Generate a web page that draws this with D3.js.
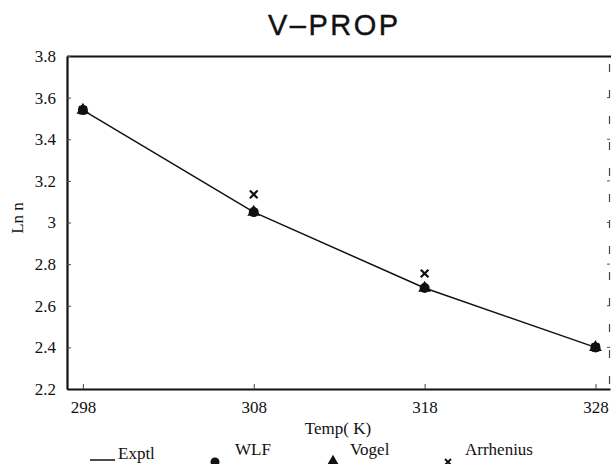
<!DOCTYPE html>
<html>
<head>
<meta charset="utf-8">
<script src="https://cdn.jsdelivr.net/npm/d3@7"></script>
<style>
	body { margin: 0; background: #fff; }
	text { fill: #111; }
</style>
</head>
<body>
<script>

// data
var temps = [298, 308, 318, 328];
var exptl = [3.54, 3.05, 2.685, 2.40];
var wlf = [3.54, 3.05, 2.685, 2.40];
var vogel = [3.54, 3.05, 2.685, 2.40];
var arrhenius = [3.54, 3.135, 2.755, 2.40];

var xTicks = [298, 308, 318, 328];
var yTicks = [2.2, 2.4, 2.6, 2.8, 3.0, 3.2, 3.4, 3.6, 3.8];
var yTickLabels = ["2.2", "2.4", "2.6", "2.8", "3", "3.2", "3.4", "3.6", "3.8"];

var legendNames = ["Exptl", "WLF", "Vogel", "Arrhenius"];

function load() {

	var width = 611, height = 464;
	var margin = {top: 56, right: 1, bottom: 75, left: 67},
		w = width - margin.left - margin.right,
		h = height - margin.top - margin.bottom;

	var svg = d3.select("body").append("svg")
		.attr("width", width)
		.attr("height", height);

	var g = svg.append("g")
		.attr("transform", "translate(" + margin.left + "," + margin.top + ")");

	var x = d3.scaleLinear().domain([297.07, 328.85]).range([0, w]);
	var y = d3.scaleLinear().domain([2.2, 3.8]).range([h, 0]);

	var serif = "'Liberation Serif', 'DejaVu Serif', serif";

	// frame: top and right border
	g.append("line")
		.attr("x1", 0).attr("x2", w + 2)
		.attr("y1", 0.5).attr("y2", 0.5)
		.attr("stroke", "#111").attr("stroke-width", 1.8);
	g.append("line")
		.attr("x1", w - 0.5).attr("x2", w - 0.5)
		.attr("y1", 8).attr("y2", h)
		.attr("stroke", "#444").attr("stroke-width", 1.2)
		.attr("stroke-dasharray", "8,18");

	// axes
	var yAxis = d3.axisLeft(y)
		.tickValues(yTicks)
		.tickFormat(function(d, i) { return yTickLabels[i]; })
		.tickSizeInner(-4).tickSizeOuter(0).tickPadding(11);

	var xAxis = d3.axisBottom(x)
		.tickValues(xTicks)
		.tickFormat(d3.format("d"))
		.tickSizeInner(-5).tickSizeOuter(0).tickPadding(12);

	var gy = g.append("g").call(yAxis);
	gy.select(".domain").attr("stroke", "#111").attr("stroke-width", 2.2);
	gy.selectAll(".tick line").attr("stroke", "#444");
	gy.selectAll("text").attr("font-family", serif).attr("font-size", 17).attr("fill", "#111");

	var gx = g.append("g").attr("transform", "translate(0," + h + ")").call(xAxis);
	gx.select(".domain").attr("stroke", "#111").attr("stroke-width", 2);
	gx.selectAll(".tick line").attr("stroke", "#444");
	gx.selectAll("text").attr("font-family", serif).attr("font-size", 17).attr("fill", "#111");

	// right side small ticks
	g.selectAll(".rtick")
		.data(yTicks.slice(1, -1))
		.enter().append("line")
			.attr("class", "rtick")
			.attr("x1", w - 3).attr("x2", w)
			.attr("y1", function(d) { return y(d); })
			.attr("y2", function(d) { return y(d); })
			.attr("stroke", "#555");

	// experimental line
	var line = d3.line()
		.x(function(d, i) { return x(temps[i]); })
		.y(function(d) { return y(d); });

	g.append("path")
		.datum(exptl)
		.attr("d", line)
		.attr("fill", "none")
		.attr("stroke", "#111")
		.attr("stroke-width", 1.5);

	// WLF circles
	g.selectAll(".wlf")
		.data(wlf)
		.enter().append("circle")
			.attr("class", "wlf")
			.attr("cx", function(d, i) { return x(temps[i]); })
			.attr("cy", function(d) { return y(d); })
			.attr("r", 5)
			.attr("fill", "#111");

	// Vogel triangles
	var tri = d3.symbol().type(d3.symbolTriangle).size(70);
	g.selectAll(".vogel")
		.data(vogel)
		.enter().append("path")
			.attr("class", "vogel")
			.attr("d", tri)
			.attr("transform", function(d, i) {
				return "translate(" + x(temps[i]) + "," + y(d) + ")";
			})
			.attr("fill", "#111");

	// Arrhenius crosses
	var cross = d3.symbol().type(d3.symbolX).size(40);
	g.selectAll(".arr")
		.data(arrhenius)
		.enter().append("path")
			.attr("class", "arr")
			.attr("d", cross)
			.attr("transform", function(d, i) {
				return "translate(" + x(temps[i]) + "," + y(d) + ")";
			})
			.attr("fill", "none")
			.attr("stroke", "#111")
			.attr("stroke-width", 2.2);

	// title
	svg.append("text")
		.attr("x", 268)
		.attr("y", 35)
		.attr("font-family", "'Liberation Sans', Arial, sans-serif")
		.attr("font-size", 29)
		.attr("letter-spacing", 2.5)
		.attr("stroke", "#111").attr("stroke-width", 0.4)
		.text("V–PROP");

	// axis titles
	svg.append("text")
		.attr("x", 338)
		.attr("y", 434)
		.attr("text-anchor", "middle")
		.attr("font-family", serif)
		.attr("font-size", 17)
		.text("Temp( K)");

	svg.append("text")
		.attr("transform", "translate(23,218) rotate(-90)")
		.attr("text-anchor", "middle")
		.attr("font-family", serif)
		.attr("font-size", 17)
		.text("Ln n");

	// legend
	var lg = svg.append("g").attr("transform", "translate(0,459)");
	var legX = [90, 215, 333, 448];
	var textX = [118, 235, 350, 465];

	lg.append("line")
		.attr("x1", legX[0]).attr("x2", legX[0] + 25)
		.attr("y1", 1).attr("y2", 1)
		.attr("stroke", "#111").attr("stroke-width", 1.5);
	lg.append("circle")
		.attr("cx", legX[1]).attr("cy", 3).attr("r", 4.5)
		.attr("fill", "#111");
	lg.append("path")
		.attr("d", d3.symbol().type(d3.symbolTriangle).size(50))
		.attr("transform", "translate(" + legX[2] + ",2)")
		.attr("fill", "#111");
	lg.append("path")
		.attr("d", d3.symbol().type(d3.symbolX).size(25))
		.attr("transform", "translate(" + legX[3] + ",3)")
		.attr("fill", "none").attr("stroke", "#111").attr("stroke-width", 2);

	lg.selectAll(".legtext")
		.data(legendNames)
		.enter().append("text")
			.attr("class", "legtext")
			.attr("x", function(d, i) { return textX[i]; })
			.attr("y", function(d, i) { return i == 0 ? 0 : -4; })
			.attr("font-family", serif)
			.attr("font-size", 17)
			.text(function(d) { return d; });
}

load();
</script>
</body>
</html>
